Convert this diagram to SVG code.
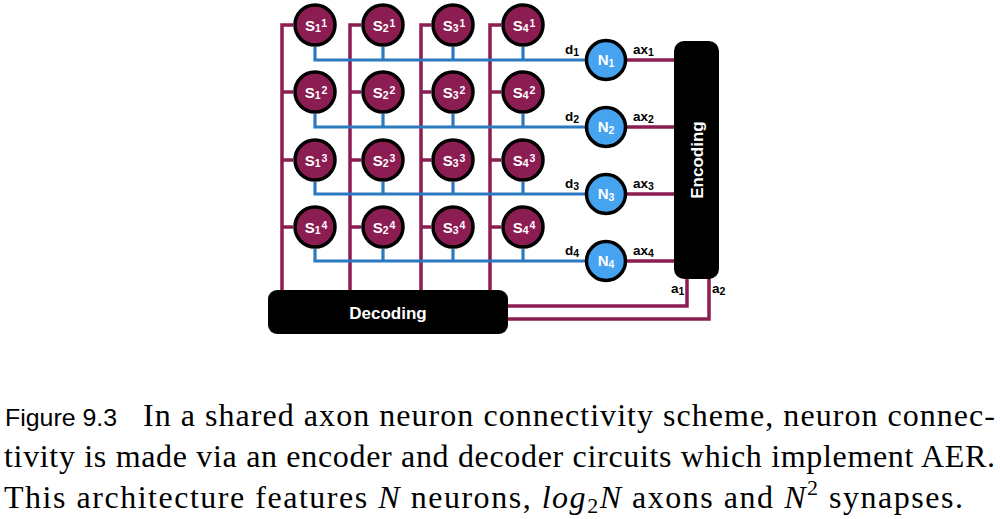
<svg xmlns="http://www.w3.org/2000/svg" width="1000" height="519" viewBox="0 0 1000 519">
<style>
.pl{fill:none;stroke:#8b1d52;stroke-width:3.5}
.bl{fill:none;stroke:#2b79bf;stroke-width:3.2}
.syn{fill:#8b1d52;stroke:#000;stroke-width:3.5}
.neu{fill:#45a3f0;stroke:#000;stroke-width:3.5}
.box{fill:#000}
.wt{font-family:"Liberation Sans",Arial,sans-serif;font-weight:bold;fill:#fff}
.bt{font-family:"Liberation Sans",Arial,sans-serif;font-weight:bold;fill:#000}
.sl{font-size:15px}
.sm{font-size:10.5px}
.cap{font-family:"Liberation Serif","Times New Roman",serif;font-size:32px;fill:#000}
.caps{font-family:"Liberation Sans",Arial,sans-serif;font-size:24px;fill:#000}
</style>
<rect width="1000" height="519" fill="#fff"/>
<g id="connectors">
<path class="pl" d="M293 25H282V290M293 92H282M293 160H282M293 227H282"/>
<path class="pl" d="M361 25H350V290M361 92H350M361 160H350M361 227H350"/>
<path class="pl" d="M431 25H421V290M431 92H421M431 160H421M431 227H421"/>
<path class="pl" d="M501 25H490V290M501 92H490M501 160H490M501 227H490"/>
<path class="bl" d="M315 47V60H606M383 47V60M453 47V60M523 47V60"/>
<path class="bl" d="M315 114V127H606M383 114V127M453 114V127M523 114V127"/>
<path class="bl" d="M315 182V194H606M383 182V194M453 182V194M523 182V194"/>
<path class="bl" d="M315 249V261H606M383 249V261M453 249V261M523 249V261"/>
<path class="pl" d="M606 60H676M606 127H676M606 194H676M606 261H676"/>
<path class="pl" d="M687 278V306H506M709 278V319H506"/>
</g>
<g id="decoding">
<rect class="box" x="268" y="290" width="240" height="44" rx="9"/>
<text class="wt" x="388" y="319" font-size="17" text-anchor="middle">Decoding</text>
</g>
<g id="encoding">
<rect class="box" x="674" y="41" width="45" height="238" rx="10"/>
<text class="wt" x="0" y="0" font-size="17" text-anchor="middle" transform="translate(703 160) rotate(-90)">Encoding</text>
</g>
<g id="S11"><circle class="syn" cx="315" cy="25" r="20"/><text class="wt sl" x="316" y="31" text-anchor="middle">S<tspan class="sm" dy="1">1</tspan><tspan class="sm" dx="1" dy="-5">1</tspan></text></g>
<g id="S21"><circle class="syn" cx="383" cy="25" r="20"/><text class="wt sl" x="384" y="31" text-anchor="middle">S<tspan class="sm" dy="1">2</tspan><tspan class="sm" dx="1" dy="-5">1</tspan></text></g>
<g id="S31"><circle class="syn" cx="453" cy="25" r="20"/><text class="wt sl" x="454" y="31" text-anchor="middle">S<tspan class="sm" dy="1">3</tspan><tspan class="sm" dx="1" dy="-5">1</tspan></text></g>
<g id="S41"><circle class="syn" cx="523" cy="25" r="20"/><text class="wt sl" x="524" y="31" text-anchor="middle">S<tspan class="sm" dy="1">4</tspan><tspan class="sm" dx="1" dy="-5">1</tspan></text></g>
<g id="S12"><circle class="syn" cx="315" cy="92" r="20"/><text class="wt sl" x="316" y="98" text-anchor="middle">S<tspan class="sm" dy="1">1</tspan><tspan class="sm" dx="1" dy="-5">2</tspan></text></g>
<g id="S22"><circle class="syn" cx="383" cy="92" r="20"/><text class="wt sl" x="384" y="98" text-anchor="middle">S<tspan class="sm" dy="1">2</tspan><tspan class="sm" dx="1" dy="-5">2</tspan></text></g>
<g id="S32"><circle class="syn" cx="453" cy="92" r="20"/><text class="wt sl" x="454" y="98" text-anchor="middle">S<tspan class="sm" dy="1">3</tspan><tspan class="sm" dx="1" dy="-5">2</tspan></text></g>
<g id="S42"><circle class="syn" cx="523" cy="92" r="20"/><text class="wt sl" x="524" y="98" text-anchor="middle">S<tspan class="sm" dy="1">4</tspan><tspan class="sm" dx="1" dy="-5">2</tspan></text></g>
<g id="S13"><circle class="syn" cx="315" cy="160" r="20"/><text class="wt sl" x="316" y="166" text-anchor="middle">S<tspan class="sm" dy="1">1</tspan><tspan class="sm" dx="1" dy="-5">3</tspan></text></g>
<g id="S23"><circle class="syn" cx="383" cy="160" r="20"/><text class="wt sl" x="384" y="166" text-anchor="middle">S<tspan class="sm" dy="1">2</tspan><tspan class="sm" dx="1" dy="-5">3</tspan></text></g>
<g id="S33"><circle class="syn" cx="453" cy="160" r="20"/><text class="wt sl" x="454" y="166" text-anchor="middle">S<tspan class="sm" dy="1">3</tspan><tspan class="sm" dx="1" dy="-5">3</tspan></text></g>
<g id="S43"><circle class="syn" cx="523" cy="160" r="20"/><text class="wt sl" x="524" y="166" text-anchor="middle">S<tspan class="sm" dy="1">4</tspan><tspan class="sm" dx="1" dy="-5">3</tspan></text></g>
<g id="S14"><circle class="syn" cx="315" cy="227" r="20"/><text class="wt sl" x="316" y="233" text-anchor="middle">S<tspan class="sm" dy="1">1</tspan><tspan class="sm" dx="1" dy="-5">4</tspan></text></g>
<g id="S24"><circle class="syn" cx="383" cy="227" r="20"/><text class="wt sl" x="384" y="233" text-anchor="middle">S<tspan class="sm" dy="1">2</tspan><tspan class="sm" dx="1" dy="-5">4</tspan></text></g>
<g id="S34"><circle class="syn" cx="453" cy="227" r="20"/><text class="wt sl" x="454" y="233" text-anchor="middle">S<tspan class="sm" dy="1">3</tspan><tspan class="sm" dx="1" dy="-5">4</tspan></text></g>
<g id="S44"><circle class="syn" cx="523" cy="227" r="20"/><text class="wt sl" x="524" y="233" text-anchor="middle">S<tspan class="sm" dy="1">4</tspan><tspan class="sm" dx="1" dy="-5">4</tspan></text></g>
<g id="N1"><circle class="neu" cx="606" cy="60" r="19.5"/><text class="wt sl" x="606" y="65" text-anchor="middle">N<tspan class="sm" dy="2">1</tspan></text></g>
<g id="N2"><circle class="neu" cx="606" cy="127" r="19.5"/><text class="wt sl" x="606" y="132" text-anchor="middle">N<tspan class="sm" dy="2">2</tspan></text></g>
<g id="N3"><circle class="neu" cx="606" cy="194" r="19.5"/><text class="wt sl" x="606" y="199" text-anchor="middle">N<tspan class="sm" dy="2">3</tspan></text></g>
<g id="N4"><circle class="neu" cx="606" cy="261" r="19.5"/><text class="wt sl" x="606" y="266" text-anchor="middle">N<tspan class="sm" dy="2">4</tspan></text></g>
<g id="labels">
<text class="bt" font-size="13.5" x="565" y="54">d<tspan class="sm" dy="2">1</tspan></text>
<text class="bt" font-size="13.5" x="565" y="121">d<tspan class="sm" dy="2">2</tspan></text>
<text class="bt" font-size="13.5" x="565" y="188">d<tspan class="sm" dy="2">3</tspan></text>
<text class="bt" font-size="13.5" x="565" y="255">d<tspan class="sm" dy="2">4</tspan></text>
<text class="bt" font-size="13.5" x="633" y="54">ax<tspan class="sm" dy="2">1</tspan></text>
<text class="bt" font-size="13.5" x="633" y="121">ax<tspan class="sm" dy="2">2</tspan></text>
<text class="bt" font-size="13.5" x="633" y="188">ax<tspan class="sm" dy="2">3</tspan></text>
<text class="bt" font-size="13.5" x="633" y="255">ax<tspan class="sm" dy="2">4</tspan></text>
<text class="bt" font-size="13.5" x="671" y="293">a<tspan class="sm" dy="2">1</tspan></text>
<text class="bt" font-size="13.5" x="712" y="293">a<tspan class="sm" dy="2">2</tspan></text>
</g>
<g id="caption">
<text class="caps" x="5" y="426" textLength="112" lengthAdjust="spacingAndGlyphs">Figure 9.3</text>
<text class="cap" x="143" y="426" textLength="852">In a shared axon neuron connectivity scheme, neuron connec-</text>
<text class="cap" x="4" y="467" textLength="991">tivity is made via an encoder and decoder circuits which implement AER.</text>
<text class="cap" x="4" y="508" textLength="959">This architecture features <tspan font-style="italic">N</tspan> neurons, <tspan font-style="italic">log</tspan><tspan font-size="22" dy="5">2</tspan><tspan font-style="italic" dy="-5">N</tspan> axons and <tspan font-style="italic">N</tspan><tspan font-size="22" dy="-13">2</tspan><tspan dy="13"> synapses.</tspan></text>
</g>
</svg>
